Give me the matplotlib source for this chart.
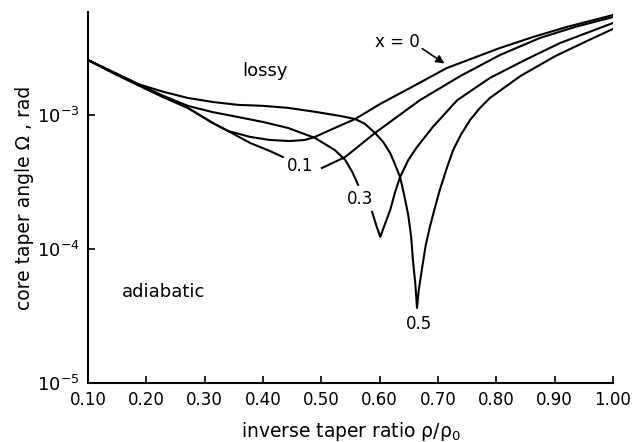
import numpy as np
import matplotlib
matplotlib.use('Agg')
import matplotlib.pyplot as plt

plt.rcParams['font.family'] = ['DejaVu Sans']
plt.rcParams['mathtext.fontset'] = 'dejavusans'

nan = np.nan

# nan marks where a label breaks the curve
rho_x0 = [0.100, 0.143, 0.186, 0.229, 0.271, 0.314, 0.340, 0.378, 0.412, 0.446, 0.472,
          0.489, 0.523, 0.558, 0.601, 0.652, 0.715, 0.806, 0.863, 0.921, 1.000]
om_x0 = [2.57e-3, 2.06e-3, 1.67e-3, 1.36e-3, 1.13e-3, 8.71e-4, 7.60e-4, 6.86e-4, 6.51e-4, 6.39e-4, 6.51e-4,
         6.86e-4, 8.00e-4, 9.33e-4, 1.21e-3, 1.59e-3, 2.24e-3, 3.16e-3, 3.82e-3, 4.54e-3, 5.57e-3]

rho_x1 = [0.100, 0.143, 0.186, 0.229, 0.271, 0.314, 0.340, 0.378, 0.412, 0.434, nan,
          0.501, 0.541, 0.592, 0.669, 0.738, 0.806, 0.875, 0.935, 1.000]
om_x1 = [2.57e-3, 2.06e-3, 1.67e-3, 1.36e-3, 1.13e-3, 8.71e-4, 7.60e-4, 6.18e-4, 5.38e-4, 4.86e-4, nan,
         4.02e-4, 4.86e-4, 7.34e-4, 1.29e-3, 1.95e-3, 2.80e-3, 3.76e-3, 4.54e-3, 5.38e-3]

rho_x3 = [0.100, 0.143, 0.186, 0.229, 0.271, 0.314, 0.357, 0.400, 0.443, 0.489, 0.523, 0.541, 0.553, 0.563, nan,
          0.587, 0.594, 0.601, 0.608, 0.618, 0.626, 0.635, 0.649, 0.664, 0.691, 0.733, 0.789, 0.849, 0.909, 1.000]
om_x3 = [2.57e-3, 2.09e-3, 1.70e-3, 1.39e-3, 1.17e-3, 1.05e-3, 9.66e-4, 8.87e-4, 8.00e-4, 6.74e-4, 5.48e-4, 4.61e-4, 3.76e-4, 3.01e-4, nan,
         1.89e-4, 1.51e-4, 1.23e-4, 1.49e-4, 1.95e-4, 2.62e-4, 3.44e-4, 4.61e-4, 5.77e-4, 8.13e-4, 1.29e-3, 1.89e-3, 2.57e-3, 3.44e-3, 4.86e-3]

rho_x5 = [0.100, 0.143, 0.186, 0.229, 0.271, 0.314, 0.357, 0.400, 0.443, 0.493, 0.532, 0.558, 0.575, 0.592, 0.606,
          0.618, 0.626, 0.635, 0.642, 0.649, 0.654, 0.657, 0.661, 0.664, 0.667, 0.673, 0.679, 0.686, 0.695,
          0.703, 0.714, 0.726, 0.739, 0.755, 0.772, 0.789, 0.841, 0.901, 0.952, 1.000]
om_x5 = [2.57e-3, 2.09e-3, 1.70e-3, 1.49e-3, 1.34e-3, 1.25e-3, 1.19e-3, 1.17e-3, 1.13e-3, 1.05e-3, 9.84e-4, 9.33e-4, 8.57e-4, 7.34e-4, 6.29e-4,
         5.20e-4, 4.31e-4, 3.44e-4, 2.53e-4, 1.79e-4, 1.23e-4, 8.28e-5, 5.57e-5, 3.63e-5, 4.94e-5, 7.35e-5, 1.07e-4, 1.46e-4, 2.06e-4,
         2.75e-4, 3.89e-4, 5.48e-4, 7.10e-4, 9.18e-4, 1.13e-3, 1.34e-3, 1.95e-3, 2.75e-3, 3.51e-3, 4.39e-3]

xticks = [0.10, 0.20, 0.30, 0.40, 0.50, 0.60, 0.70, 0.80, 0.90, 1.00]
yticks = [1e-5, 1e-4, 1e-3]
ytickLabels = [r'$10^{-5}$', r'$10^{-4}$', r'$10^{-3}$']

fontSize = 12
labelSize = 13.5

fig = plt.figure(figsize=(6.34, 4.42), dpi=100)
ax = fig.add_axes([0.1388, 0.1335, 0.8281, 0.8394])

for rho, om in [(rho_x0, om_x0), (rho_x1, om_x1), (rho_x3, om_x3), (rho_x5, om_x5)]:
  ax.plot(rho, om, '-', color='black', linewidth=1.5)

ax.set_yscale('log')
ax.set_xlim(0.1, 1.0)
ax.set_ylim(1e-5, 5.87e-3)

ax.set_xticks(xticks)
ax.set_xticklabels(['%.2f' % t for t in xticks], fontsize=fontSize)
ax.set_yticks(yticks)
ax.set_yticklabels(ytickLabels, fontsize=13)
ax.yaxis.set_minor_locator(matplotlib.ticker.NullLocator())
ax.tick_params(direction='in', length=5, width=1.2, pad=6)

ax.spines['top'].set_visible(False)
ax.spines['right'].set_visible(False)
ax.spines['left'].set_linewidth(1.5)
ax.spines['bottom'].set_linewidth(1.5)

ax.set_xlabel('inverse taper ratio ρ/ρ$_0$', fontsize=labelSize, labelpad=8)
ax.set_ylabel('core taper angle Ω , rad', fontsize=labelSize, labelpad=2)

# region and curve labels
ax.text(0.403, 2.13e-3, 'lossy', fontsize=13, ha='center', va='center')
ax.text(0.230, 4.77e-5, 'adiabatic', fontsize=13, ha='center', va='center')
ax.text(0.463, 4.16e-4, '0.1', fontsize=fontSize, ha='center', va='center')
ax.text(0.566, 2.36e-4, '0.3', fontsize=fontSize, ha='center', va='center')
ax.text(0.667, 2.75e-5, '0.5', fontsize=fontSize, ha='center', va='center')
ax.text(0.631, 3.51e-3, 'x = 0', fontsize=fontSize, ha='center', va='center')
ax.annotate('', xy=(0.715, 2.36e-3), xytext=(0.669, 3.21e-3),
            arrowprops=dict(arrowstyle='-|>', color='black', lw=1.2, mutation_scale=12))

plt.savefig('out.png', dpi=100)
